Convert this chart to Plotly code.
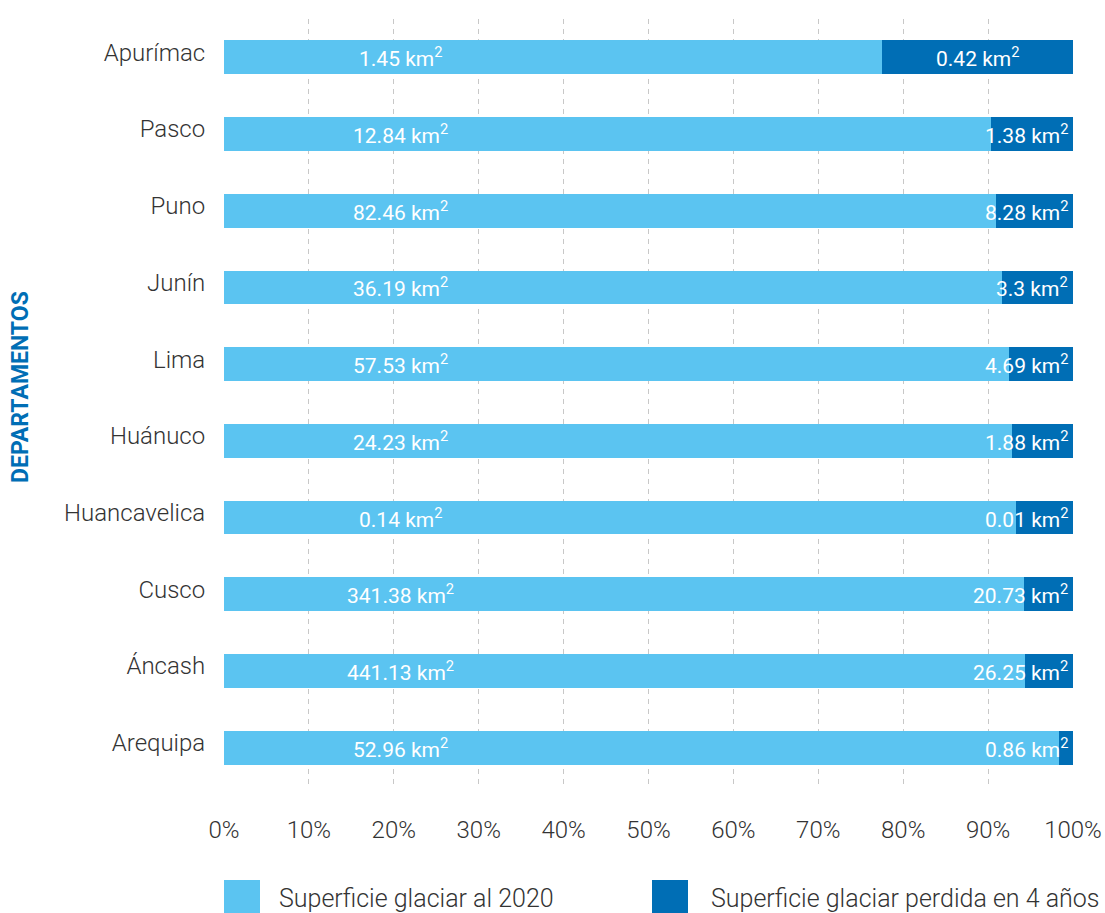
import numpy as np
import plotly.graph_objects as go

# Glacier surface by department (km²)
categories = ["Apurímac", "Pasco", "Puno", "Junín", "Lima", "Huánuco",
              "Huancavelica", "Cusco", "Áncash", "Arequipa"]
area_2020 = [1.45, 12.84, 82.46, 36.19, 57.53, 24.23, 0.14, 341.38, 441.13, 52.96]
area_lost = [0.42, 1.38, 8.28, 3.3, 4.69, 1.88, 0.01, 20.73, 26.25, 0.86]
series_names = ["Superficie glaciar al 2020", "Superficie glaciar perdida en 4 años"]
x_ticks = [0, 10, 20, 30, 40, 50, 60, 70, 80, 90, 100]
x_tick_labels = [f"{v}%" for v in x_ticks]

LIGHT = "#5BC4F1"
DARK = "#006EB5"
TEXT = "#333333"
FONT = "Roboto"

W, H = 1105, 913
ML, MR, MT, MB = 224, 32, 19, 127
pw, ph = W - ML - MR, H - MT - MB


def px_x(p):
    return (p - ML) / pw


def px_y(p):
    return (H - MB - p) / ph


def fmt(v):
    return f"{v:g} km<sup>2</sup>"


fig = go.Figure()
fig.add_trace(go.Bar(y=categories, x=area_2020, orientation="h", name=series_names[0],
                     marker=dict(color=LIGHT, line=dict(width=0)), width=0.44,
                     showlegend=False, hoverinfo="x+y"))
fig.add_trace(go.Bar(y=categories, x=area_lost, orientation="h", name=series_names[1],
                     marker=dict(color=DARK, line=dict(width=0)), width=0.44,
                     showlegend=False, hoverinfo="x+y"))

# Value labels: surviving area at a fixed column, lost area at the bar end
totals = np.array(area_2020) + np.array(area_lost)
share_kept = np.array(area_2020) / totals * 100
label_font = dict(family=FONT, size=21, color="white", weight=400)
annotations = []
for cat, kept, lost, pct in zip(categories, area_2020, area_lost, share_kept):
    annotations.append(dict(x=20.8, y=cat, xref="x", yref="y", text=fmt(kept),
                            showarrow=False, xanchor="center", yanchor="middle",
                            font=label_font))
    if 100 - pct > 15:
        annotations.append(dict(x=(pct + 100) / 2, y=cat, xref="x", yref="y", text=fmt(lost),
                                showarrow=False, xanchor="center", yanchor="middle",
                                font=label_font))
    else:
        annotations.append(dict(x=99.7, y=cat, xref="x", yref="y", text=fmt(lost),
                                showarrow=False, xanchor="right", yanchor="middle",
                                font=label_font))

# Vertical axis title
annotations.append(dict(x=px_x(21), y=px_y(387), xref="paper", yref="paper",
                        text="<b>DEPARTAMENTOS</b>", showarrow=False, textangle=-90,
                        xanchor="center", yanchor="middle",
                        font=dict(family=FONT, size=23, color=DARK)))

# Legend: colour swatches with their labels
shapes = []
for name, color, lx, tx in zip(series_names, [LIGHT, DARK], [224, 652], [277, 709]):
    shapes.append(dict(type="rect", xref="paper", yref="paper",
                       x0=px_x(lx), x1=px_x(lx + 36), y0=px_y(914), y1=px_y(880),
                       fillcolor=color, line=dict(width=0)))
    annotations.append(dict(x=px_x(tx), y=px_y(898), xref="paper", yref="paper", text=name,
                            showarrow=False, xanchor="left", yanchor="middle",
                            font=dict(family=FONT, size=25, color=TEXT, weight=300)))

fig.update_layout(
    width=W, height=H,
    barmode="stack", barnorm="percent",
    margin=dict(l=ML, r=MR, t=MT, b=MB, pad=0, autoexpand=False),
    paper_bgcolor="white", plot_bgcolor="white",
    font=dict(family=FONT, color=TEXT),
    annotations=annotations, shapes=shapes,
    showlegend=False,
    xaxis=dict(range=[0, 100], tickvals=x_ticks, ticktext=x_tick_labels,
               showgrid=True, gridcolor="#C8C8C8", gridwidth=1, griddash="5px,5px",
               zeroline=False, showline=False, ticks="outside", ticklen=22,
               tickcolor="rgba(0,0,0,0)", automargin=False,
               tickfont=dict(size=24, color=TEXT, weight=300),
               fixedrange=True),
    yaxis=dict(categoryorder="array", categoryarray=categories[::-1],
               showgrid=False, zeroline=False, showline=False,
               ticks="outside", ticklen=13, tickcolor="rgba(0,0,0,0)", automargin=False,
               ticklabelshift=-5,
               tickfont=dict(size=24, color=TEXT, weight=300), fixedrange=True),
)

fig.write_html("out.html")
